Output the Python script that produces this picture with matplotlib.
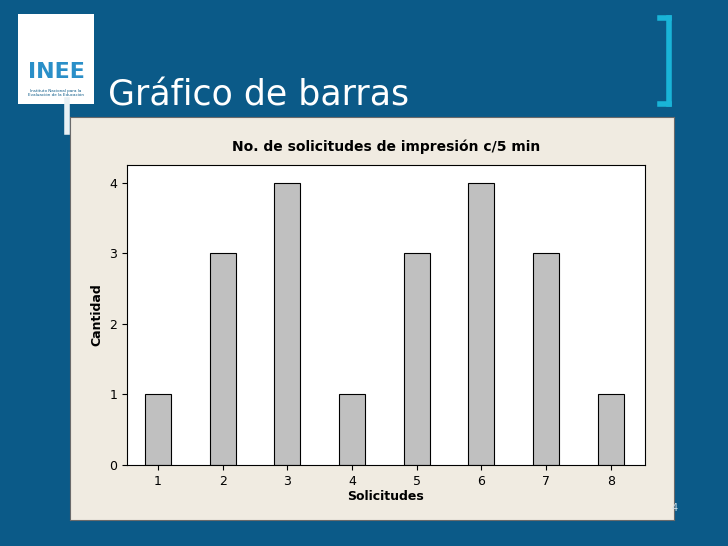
import matplotlib
matplotlib.use("Agg")
import matplotlib.pyplot as plt
from matplotlib.patches import Rectangle

categories = [1, 2, 3, 4, 5, 6, 7, 8]
values = [1, 3, 4, 1, 3, 4, 3, 1]
yticks = [0, 1, 2, 3, 4]

W, H = 728, 546
fig = plt.figure(figsize=(W/100, H/100), dpi=100)
fig.patch.set_facecolor('#0b5a88')

def px(x0, y0, x1, y1):
    return [x0/W, 1-y1/H, (x1-x0)/W, (y1-y0)/H]

# panel as background axes
bg = fig.add_axes(px(70, 117, 674, 520), zorder=0)
bg.set_facecolor('#f0ebe1')
bg.set_xticks([]); bg.set_yticks([])
for s in bg.spines.values():
    s.set_color('#6a6a6a'); s.set_linewidth(0.8)

# logo box
fig.patches.append(Rectangle((18/W, 1-104/H), 76/W, 90/H, transform=fig.transFigure, facecolor='white', edgecolor='none'))
fig.text(56/W, 1-72/H, 'INEE', color='#2a8fc8', fontsize=16, fontweight='bold', ha='center', va='center')
fig.text(56/W, 1-93/H, 'Instituto Nacional para la\nEvaluación de la Educación', color='#0b5a88', fontsize=3, ha='center', va='center')

# brackets
c = '#19b4d8'
fig.add_artist(plt.Line2D([669/W, 669/W], [1-18/H, 1-104/H], color=c, lw=4, transform=fig.transFigure))
fig.add_artist(plt.Line2D([660/W, 669/W], [1-18/H, 1-18/H], color=c, lw=4, transform=fig.transFigure))
fig.add_artist(plt.Line2D([660/W, 669/W], [1-104/H, 1-104/H], color=c, lw=4, transform=fig.transFigure))
fig.add_artist(plt.Line2D([67/W, 67/W], [1-100/H, 1-132/H], color='#e8f0f4', lw=4, transform=fig.transFigure))

fig.text(108/W, 1-95/H, 'Gráfico de barras', color='white', fontsize=25, ha='left', va='center')
fig.text(675/W, 1-508/H, '4', color='#cfe0ea', fontsize=7, ha='center', va='center', zorder=5)

ax = fig.add_axes(px(127, 165, 645, 465), zorder=2)
ax.set_facecolor('white')
ax.bar(categories, values, width=0.4, color='#c0c0c0', edgecolor='black', linewidth=0.8)
ax.set_xlim(0.52, 8.53)
ax.set_ylim(0, 4.255)
ax.set_xticks(categories)
ax.set_yticks(yticks)
ax.tick_params(labelsize=9)
ax.set_xlabel('Solicitudes', fontsize=9, fontweight='bold', labelpad=2)
ax.set_ylabel('Cantidad', fontsize=9, fontweight='bold')
ax.set_title('No. de solicitudes de impresión c/5 min', fontsize=10, fontweight='bold', pad=10)
for s in ax.spines.values():
    s.set_linewidth(0.8)

fig.savefig('out.png', dpi=100, facecolor=fig.get_facecolor())
